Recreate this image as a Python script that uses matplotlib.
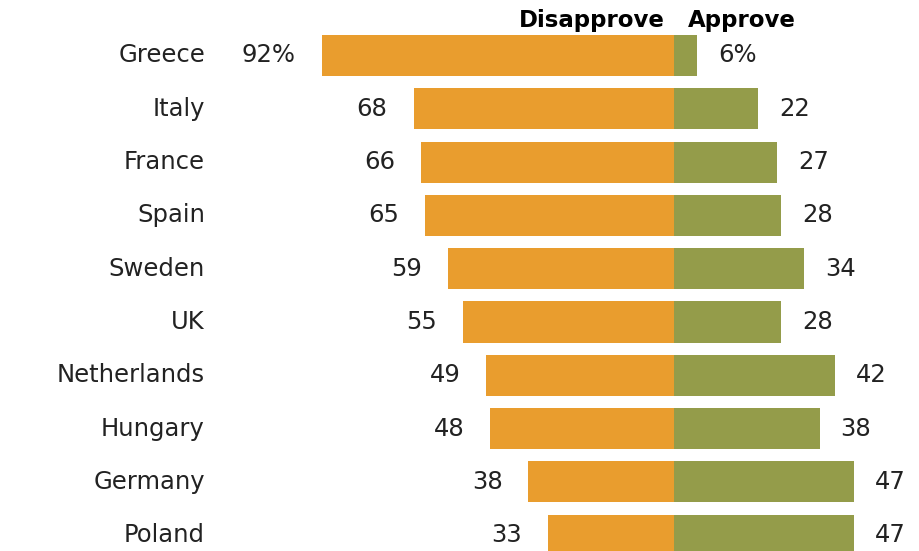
import matplotlib
matplotlib.use("Agg")
import matplotlib.pyplot as plt
import matplotlib.transforms as mtransforms

countries = ["Greece", "Italy", "France", "Spain", "Sweden", "UK",
             "Netherlands", "Hungary", "Germany", "Poland"]
disapprove = [92, 68, 66, 65, 59, 55, 49, 48, 38, 33]
approve = [6, 22, 27, 28, 34, 28, 42, 38, 47, 47]
dis_labels = ["92%", "68", "66", "65", "59", "55", "49", "48", "38", "33"]
app_labels = ["6%", "22", "27", "28", "34", "28", "42", "38", "47", "47"]

ORANGE = "#E99D2E"
GREEN = "#949C4A"
TXT = "#222222"
FONT = "DejaVu Sans"

W, H = 920, 551
fig = plt.figure(figsize=(W / 100, H / 100), dpi=100)
ax = fig.add_axes([0, 0, 1, 1])

px_per_unit = 3.83
zero_px = 674
row_px = 53.3
first_px = 55.5

ax.set_xlim(-zero_px / px_per_unit, (W - zero_px) / px_per_unit)
ax.set_ylim((H - first_px) / row_px, -first_px / row_px)
ax.axis("off")

ys = list(range(len(countries)))
ax.barh(ys, [-d for d in disapprove], height=0.77, color=ORANGE,
        linewidth=0)
ax.barh(ys, approve, height=0.77, color=GREEN, linewidth=0)

lab_trans = mtransforms.blended_transform_factory(ax.transAxes, ax.transData)
fs = 17.5
for y, c, d, a, dl, al in zip(ys, countries, disapprove, approve,
                              dis_labels, app_labels):
    ax.text(205 / W, y, c, transform=lab_trans, ha="right", va="center",
            fontsize=fs, color=TXT, family=FONT)
    ax.text(-d - 26 / px_per_unit, y, dl, ha="right", va="center",
            fontsize=fs, color=TXT, family=FONT)
    ax.text(a + 21 / px_per_unit, y, al, ha="left", va="center",
            fontsize=fs, color=TXT, family=FONT)

ax.text((665 - zero_px) / px_per_unit, -35 / row_px, "Disapprove",
        ha="right", va="center", fontsize=16.5, fontweight="bold",
        color="black", family=FONT)
ax.text((688 - zero_px) / px_per_unit, -35 / row_px, "Approve",
        ha="left", va="center", fontsize=16.5, fontweight="bold",
        color="black", family=FONT)

fig.savefig("out.png", dpi=100, facecolor="white")
